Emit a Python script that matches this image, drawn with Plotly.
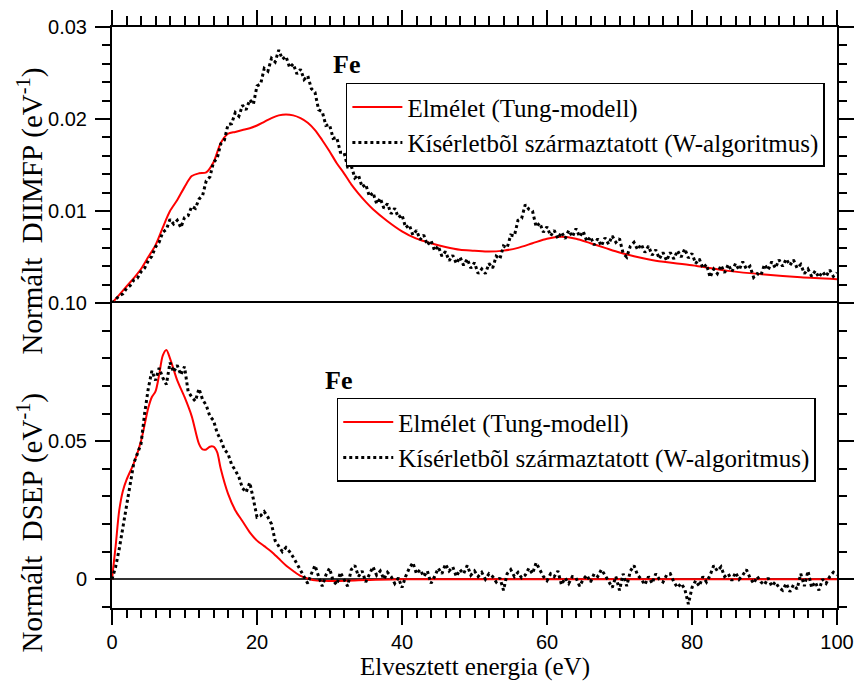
import numpy as np
import plotly.graph_objects as go

# ---------------- data ----------------
# Top panel: normalised DIIMFP (eV^-1)
diimfp_theory_x = [0, 1, 2, 3, 4, 5, 6, 7, 8, 9, 10, 11, 12, 13, 14, 15, 16, 17, 18, 19, 20,
                   21, 22, 23, 24, 25, 26, 27, 28, 29, 30, 31, 32, 33, 34, 35, 36, 38, 40, 42,
                   44, 46, 48, 50, 52, 54, 56, 58, 60, 62, 64, 66, 68, 70, 72, 75, 80, 85, 90,
                   95, 100]
diimfp_theory_y = [0, 0.0009, 0.0018, 0.0027, 0.0037, 0.0050, 0.0063, 0.0082, 0.0100, 0.0112,
                   0.0126, 0.0138, 0.0141, 0.0142, 0.0153, 0.0174, 0.0184, 0.0186, 0.0188,
                   0.0190, 0.0193, 0.0197, 0.0201, 0.0204, 0.0205, 0.0204, 0.0201, 0.0196,
                   0.0188, 0.0177, 0.0165, 0.0152, 0.0141, 0.0129, 0.0119, 0.0110, 0.0102,
                   0.0089, 0.0078, 0.0070, 0.0065, 0.0061, 0.0058, 0.0057, 0.0056, 0.0057,
                   0.0060, 0.0065, 0.0070, 0.0072, 0.0070, 0.0065, 0.0060, 0.0055, 0.0051,
                   0.0046, 0.0041, 0.0035, 0.0031, 0.0028, 0.0026]

energy_exp = [i * 0.5 for i in range(201)]
diimfp_exp_y = [
    0.0000, 0.0004, 0.0008, 0.0010, 0.0016, 0.0019, 0.0025, 0.0027, 0.0034, 0.0038,
    0.0046, 0.0051, 0.0061, 0.0066, 0.0077, 0.0080, 0.0091, 0.0086, 0.0090, 0.0082,
    0.0093, 0.0095, 0.0105, 0.0103, 0.0113, 0.0117, 0.0133, 0.0137, 0.0153, 0.0157,
    0.0173, 0.0177, 0.0194, 0.0195, 0.0207, 0.0203, 0.0215, 0.0210, 0.0221, 0.0216,
    0.0236, 0.0238, 0.0255, 0.0252, 0.0266, 0.0262, 0.0275, 0.0265, 0.0268, 0.0256,
    0.0260, 0.0249, 0.0254, 0.0243, 0.0247, 0.0233, 0.0229, 0.0210, 0.0208, 0.0193,
    0.0194, 0.0179, 0.0180, 0.0164, 0.0164, 0.0148, 0.0149, 0.0136, 0.0139, 0.0126,
    0.0129, 0.0116, 0.0120, 0.0108, 0.0114, 0.0103, 0.0108, 0.0097, 0.0103, 0.0093,
    0.0096, 0.0082, 0.0085, 0.0074, 0.0079, 0.0069, 0.0074, 0.0063, 0.0068, 0.0057,
    0.0062, 0.0051, 0.0056, 0.0046, 0.0052, 0.0043, 0.0050, 0.0041, 0.0048, 0.0038,
    0.0044, 0.0032, 0.0037, 0.0032, 0.0043, 0.0038, 0.0051, 0.0048, 0.0062, 0.0060,
    0.0074, 0.0073, 0.0090, 0.0092, 0.0107, 0.0102, 0.0100, 0.0083, 0.0087, 0.0077,
    0.0083, 0.0073, 0.0079, 0.0070, 0.0077, 0.0070, 0.0079, 0.0072, 0.0081, 0.0072,
    0.0078, 0.0067, 0.0072, 0.0063, 0.0070, 0.0062, 0.0071, 0.0064, 0.0073, 0.0066,
    0.0070, 0.0054, 0.0050, 0.0062, 0.0066, 0.0058, 0.0064, 0.0055, 0.0062, 0.0052,
    0.0058, 0.0048, 0.0055, 0.0046, 0.0055, 0.0048, 0.0057, 0.0050, 0.0059, 0.0049,
    0.0054, 0.0043, 0.0048, 0.0038, 0.0042, 0.0028, 0.0037, 0.0032, 0.0041, 0.0033,
    0.0042, 0.0034, 0.0043, 0.0036, 0.0045, 0.0037, 0.0040, 0.0028, 0.0032, 0.0030,
    0.0042, 0.0036, 0.0045, 0.0038, 0.0047, 0.0040, 0.0048, 0.0041, 0.0047, 0.0038,
    0.0042, 0.0032, 0.0037, 0.0029, 0.0035, 0.0028, 0.0034, 0.0029, 0.0036, 0.0029,
    0.0033]

# Bottom panel: normalised DSEP (eV^-1)
dsep_theory_x = [0, 0.5, 1, 1.5, 2, 3, 4, 5, 5.5, 6, 6.5, 7, 7.5, 8, 9, 10, 11, 12, 12.5, 13,
                 13.5, 14, 14.5, 15, 16, 17, 18, 19, 20, 21, 22, 23, 24, 25, 26, 27, 28, 30,
                 35, 40, 50, 60, 70, 80, 90, 100]
dsep_theory_y = [0, 0.012, 0.025, 0.032, 0.036, 0.042, 0.050, 0.062, 0.066, 0.068, 0.074,
                 0.081, 0.083, 0.080, 0.072, 0.066, 0.059, 0.049, 0.047, 0.047, 0.048, 0.048,
                 0.046, 0.040, 0.031, 0.025, 0.021, 0.017, 0.014, 0.012, 0.010, 0.0075, 0.005,
                 0.003, 0.0012, 0.0003, -0.0004, -0.0006, -0.0003, 0, 0, 0, 0, 0, 0, 0]

dsep_exp_y = [
    0.0000, 0.0045, 0.0110, 0.0190, 0.0270, 0.0345, 0.0420, 0.0455, 0.0490, 0.0600,
    0.0690, 0.0755, 0.0720, 0.0765, 0.0730, 0.0705, 0.0785, 0.0750, 0.0775, 0.0740,
    0.0770, 0.0680, 0.0660, 0.0645, 0.0690, 0.0650, 0.0630, 0.0590, 0.0575, 0.0530,
    0.0505, 0.0470, 0.0455, 0.0415, 0.0395, 0.0370, 0.0330, 0.0315, 0.0350, 0.0290,
    0.0225, 0.0230, 0.0245, 0.0225, 0.0200, 0.0140, 0.0120, 0.0100, 0.0115, 0.0100,
    0.0080, 0.0055, 0.0030, 0.0010, -0.0015, 0.0020, 0.0050, 0.0010, -0.0025, 0.0015,
    0.0040, -0.0005, -0.0020, 0.0025, 0.0000, -0.0025, 0.0035, 0.0050, 0.0010, 0.0030,
    -0.0010, 0.0020, 0.0045, 0.0015, 0.0030, 0.0000, 0.0025, 0.0010, -0.0015, 0.0005,
    -0.0030, 0.0010, 0.0040, 0.0060, 0.0020, 0.0035, 0.0010, 0.0030, -0.0015, 0.0010,
    0.0040, 0.0020, 0.0055, 0.0030, 0.0045, 0.0010, 0.0035, 0.0020, 0.0050, 0.0015,
    0.0030, 0.0010, 0.0025, 0.0000, 0.0020, 0.0010, -0.0010, 0.0005, -0.0040, 0.0020,
    0.0035, 0.0010, 0.0025, 0.0005, 0.0015, 0.0040, 0.0020, 0.0060, 0.0035, 0.0010,
    -0.0005, 0.0020, 0.0010, 0.0030, -0.0020, 0.0005, -0.0015, 0.0010, 0.0005, -0.0025,
    0.0000, 0.0015, -0.0010, 0.0020, 0.0010, 0.0035, 0.0015, -0.0010, -0.0030, 0.0010,
    -0.0040, 0.0020, -0.0025, 0.0030, 0.0050, 0.0015, 0.0000, -0.0020, 0.0010, -0.0015,
    0.0020, 0.0000, -0.0010, 0.0015, 0.0020, -0.0010, -0.0030, -0.0015, -0.0035, -0.0090,
    -0.0030, -0.0005, -0.0025, 0.0010, -0.0010, 0.0015, 0.0050, 0.0030, 0.0045, 0.0010,
    0.0020, -0.0005, 0.0025, 0.0000, 0.0015, 0.0035, 0.0005, -0.0015, 0.0010, -0.0010,
    -0.0020, 0.0005, -0.0025, -0.0010, -0.0030, -0.0040, -0.0015, -0.0045, -0.0020, -0.0035,
    0.0020, -0.0025, 0.0030, -0.0030, -0.0010, -0.0040, 0.0000, -0.0015, 0.0010, 0.0025,
    0.0015]

x_ticks = [0, 20, 40, 60, 80, 100]
top_yticks = [0, 0.01, 0.02, 0.03]
top_yticktext = ["", "0.01", "0.02", "0.03"]
bot_yticks = [0, 0.05, 0.10]
bot_yticktext = ["0", "0.05", "0.10"]

name_theory = "Elmélet (Tung-modell)"
name_exp = "Kísérletbõl származtatott (W-algoritmus)"

# ---------------- figure ----------------
RED = "#ff0000"
SERIF = "Liberation Serif, Times New Roman, serif"
SANS = "Liberation Sans, Arial, sans-serif"

fig = go.Figure()
fig.add_trace(go.Scatter(x=diimfp_theory_x, y=diimfp_theory_y, mode="lines", name=name_theory,
                         line=dict(color=RED, width=2, shape="spline", smoothing=0.8),
                         xaxis="x2", yaxis="y", legend="legend"))
fig.add_trace(go.Scatter(x=energy_exp, y=diimfp_exp_y, mode="lines", name=name_exp,
                         line=dict(color="black", width=3, dash="dot"),
                         xaxis="x2", yaxis="y", legend="legend"))
fig.add_trace(go.Scatter(x=dsep_theory_x, y=dsep_theory_y, mode="lines", name=name_theory,
                         line=dict(color=RED, width=2, shape="spline", smoothing=0.8),
                         xaxis="x", yaxis="y2", legend="legend2"))
fig.add_trace(go.Scatter(x=energy_exp, y=dsep_exp_y, mode="lines", name=name_exp,
                         line=dict(color="black", width=3, dash="dot"),
                         xaxis="x", yaxis="y2", legend="legend2"))

split = 0.5248
axis_common = dict(showgrid=False, showline=True, linecolor="black", linewidth=2,
                   ticks="outside", tickcolor="black", tickwidth=2, ticklen=15,
                   tickfont=dict(family=SANS, size=20, color="black"))

fig.update_layout(
    width=866, height=689,
    margin=dict(l=112, r=21, t=23, b=81),
    paper_bgcolor="white", plot_bgcolor="white",
    xaxis=dict(domain=[0, 1], anchor="y2", range=[0, 100], tickvals=x_ticks,
               mirror=True,
               minor=dict(dtick=2, ticks="outside", ticklen=8, tickwidth=1.5, tickcolor="black"),
               **axis_common),
    xaxis2=dict(domain=[0, 1], anchor="y", range=[0, 100], matches="x", side="top",
                tickvals=x_ticks, showticklabels=False, mirror=False,
                minor=dict(dtick=2, ticks="outside", ticklen=9, tickwidth=1.5, tickcolor="black"),
                **axis_common),
    yaxis=dict(domain=[split, 1], anchor="x2", range=[0, 0.03], tickvals=top_yticks,
               ticktext=top_yticktext, mirror="ticks", zeroline=False, ticklabelstandoff=4,
               minor=dict(tick0=0, dtick=0.002, ticks="outside", ticklen=8, tickwidth=1.5,
                          tickcolor="black"),
               **axis_common),
    yaxis2=dict(domain=[0, split], anchor="x", range=[-0.0104, 0.1], tickvals=bot_yticks,
                ticktext=bot_yticktext, mirror="ticks", zeroline=True, zerolinecolor="#333333",
                zerolinewidth=2, ticklabelstandoff=4,
                minor=dict(tick0=0, dtick=0.01, ticks="outside", ticklen=8, tickwidth=1.5,
                           tickcolor="black"),
                **axis_common),
    legend=dict(x=0.3226, y=0.904, xanchor="left", yanchor="top", bgcolor="white",
                bordercolor="black", borderwidth=1.5, itemwidth=50,
                font=dict(family=SERIF, size=25, color="black"), tracegroupgap=0),
    legend2=dict(x=0.310, y=0.362, xanchor="left", yanchor="top", bgcolor="white",
                 bordercolor="black", borderwidth=1.5, itemwidth=50,
                 font=dict(family=SERIF, size=25, color="black"), tracegroupgap=0),
    showlegend=True,
)

annotations = [
    dict(text="Normált\u00a0\u00a0DIIMFP\u00a0(eV<sup>-1</sup>)", x=-0.112, y=0.684,
         xref="paper", yref="paper", textangle=-90, showarrow=False,
         xanchor="center", yanchor="middle",
         font=dict(family=SERIF, size=29, color="black")),
    dict(text="Normált\u00a0\u00a0DSEP\u00a0(eV<sup>-1</sup>)", x=-0.112, y=0.147,
         xref="paper", yref="paper", textangle=-90, showarrow=False,
         xanchor="center", yanchor="middle",
         font=dict(family=SERIF, size=29, color="black")),
    dict(text="Elvesztett energia (eV)", x=0.5, y=-0.101, xref="paper", yref="paper",
         showarrow=False, xanchor="center", yanchor="middle",
         font=dict(family=SERIF, size=25, color="black")),
    dict(text="<b>Fe</b>", x=0.323, y=0.936, xref="paper", yref="paper", showarrow=False,
         xanchor="center", yanchor="middle",
         font=dict(family=SERIF, size=26, color="black")),
    dict(text="<b>Fe</b>", x=0.312, y=0.392, xref="paper", yref="paper", showarrow=False,
         xanchor="center", yanchor="middle",
         font=dict(family=SERIF, size=26, color="black")),
]
fig.update_layout(annotations=annotations)

fig.write_html("out.html")
